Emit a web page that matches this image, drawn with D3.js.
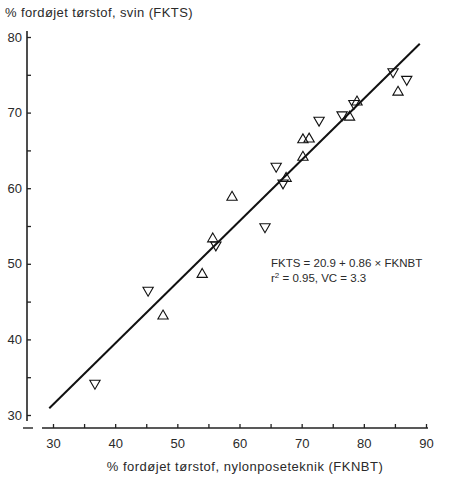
<!DOCTYPE html>
<html>
<head>
<meta charset="utf-8">
<script src="https://cdn.jsdelivr.net/npm/d3@7"></script>
<style>
  body { margin: 0; background: #fff; }
  text { font-family: "Liberation Sans", Arial, sans-serif; fill: #2a2a2a; }
</style>
</head>
<body>
<div id="chart"></div>
<script>
// Data
const upX   = [47.7, 54.0, 55.7, 58.8, 67.5, 70.2, 70.2, 71.2, 77.7, 78.9, 85.5];
const upY   = [43.1, 48.6, 53.3, 58.8, 61.3, 64.1, 66.4, 66.5, 69.4, 71.4, 72.7];
const downX = [36.75, 45.3, 56.2, 64.1, 65.9, 67.0, 72.8, 76.5, 78.4, 84.7, 86.9];
const downY = [34.2, 46.5, 52.5, 54.9, 62.9, 60.7, 69.0, 69.7, 71.2, 75.4, 74.4];

// fitted line as drawn (end points)
const lineX = [29.4, 89.0];
const lineY = [30.9, 79.1];

const xTicks = [30, 35, 40, 45, 50, 55, 60, 65, 70, 75, 80, 85, 90];
const yTicks = [30, 35, 40, 45, 50, 55, 60, 65, 70, 75, 80];

const width = 458, height = 477;

const svg = d3.select("#chart").append("svg")
    .attr("width", width)
    .attr("height", height);

const x = d3.scaleLinear().domain([30, 90]).range([53, 426]);
const y = d3.scaleLinear().domain([30, 80]).range([415, 37]);

const axisX0 = 27;   // y axis position
const axisY0 = 428;  // x axis position

// axis lines (broken at the corner like the original)
svg.append("line")
    .attr("x1", axisX0).attr("x2", axisX0)
    .attr("y1", 31).attr("y2", 421)
    .attr("stroke", "#222").attr("stroke-width", 1.6);
svg.append("line")
    .attr("x1", 42).attr("x2", 428)
    .attr("y1", axisY0).attr("y2", axisY0)
    .attr("stroke", "#222").attr("stroke-width", 1.6);
svg.append("line")
    .attr("x1", 23).attr("x2", 33)
    .attr("y1", axisY0).attr("y2", axisY0)
    .attr("stroke", "#222").attr("stroke-width", 1.4);

// y axis: ticks point inward (right)
const yAxis = svg.append("g")
    .attr("transform", `translate(${axisX0},0)`)
    .call(d3.axisLeft(y)
        .tickValues(yTicks)
        .tickSize(-4)
        .tickPadding(5)
        .tickFormat(d => d % 10 === 0 ? d : ""));
yAxis.select(".domain").remove();
yAxis.selectAll("line").attr("stroke", "#222").attr("stroke-width", 1.3);
yAxis.selectAll("text")
    .style("font-size", "13px")
    .style("font-family", "'Liberation Sans', Arial, sans-serif")
    .attr("fill", "#2a2a2a");

// x axis: ticks point up
const xAxis = svg.append("g")
    .attr("transform", `translate(0,${axisY0})`)
    .call(d3.axisBottom(x)
        .tickValues(xTicks)
        .tickSize(-4)
        .tickPadding(11)
        .tickFormat(d => d % 10 === 0 ? d : ""));
xAxis.select(".domain").remove();
xAxis.selectAll("line").attr("stroke", "#222").attr("stroke-width", 1.3);
xAxis.selectAll("text")
    .style("font-size", "13px")
    .style("font-family", "'Liberation Sans', Arial, sans-serif")
    .attr("fill", "#2a2a2a");

// regression line
svg.append("path")
    .datum(lineX.map((d, i) => [d, lineY[i]]))
    .attr("fill", "none")
    .attr("stroke", "#111")
    .attr("stroke-width", 2)
    .attr("d", d3.line().x(d => x(d[0])).y(d => y(d[1])));

// markers
const tri = d3.symbol().type(d3.symbolTriangle).size(46);

svg.append("g")
    .selectAll("path")
    .data(upX.map((d, i) => [d, upY[i]]))
    .join("path")
    .attr("d", tri)
    .attr("transform", d => `translate(${x(d[0])},${y(d[1])})`)
    .attr("fill", "none")
    .attr("stroke", "#111")
    .attr("stroke-width", 1.1);

svg.append("g")
    .selectAll("path")
    .data(downX.map((d, i) => [d, downY[i]]))
    .join("path")
    .attr("d", tri)
    .attr("transform", d => `translate(${x(d[0])},${y(d[1])}) rotate(180)`)
    .attr("fill", "none")
    .attr("stroke", "#111")
    .attr("stroke-width", 1.1);

// annotation
const ann = svg.append("g").style("font-size", "11.5px");
ann.append("text")
    .attr("x", 271).attr("y", 267)
    .text("FKTS = 20.9 + 0.86 × FKNBT");
const r2 = ann.append("text")
    .attr("x", 271).attr("y", 282);
r2.append("tspan").text("r");
r2.append("tspan").attr("dy", -4).style("font-size", "8px").text("2");
r2.append("tspan").attr("dy", 4).text(" = 0.95, VC = 3.3");

// axis titles
svg.append("text")
    .attr("x", 5).attr("y", 17)
    .style("font-size", "13px")
    .style("letter-spacing", "0.4px")
    .text("% fordøjet tørstof, svin (FKTS)");

svg.append("text")
    .attr("x", 245).attr("y", 471)
    .attr("text-anchor", "middle")
    .style("font-size", "13px")
    .style("letter-spacing", "0.5px")
    .text("% fordøjet tørstof, nylonposeteknik (FKNBT)");
</script>
</body>
</html>
